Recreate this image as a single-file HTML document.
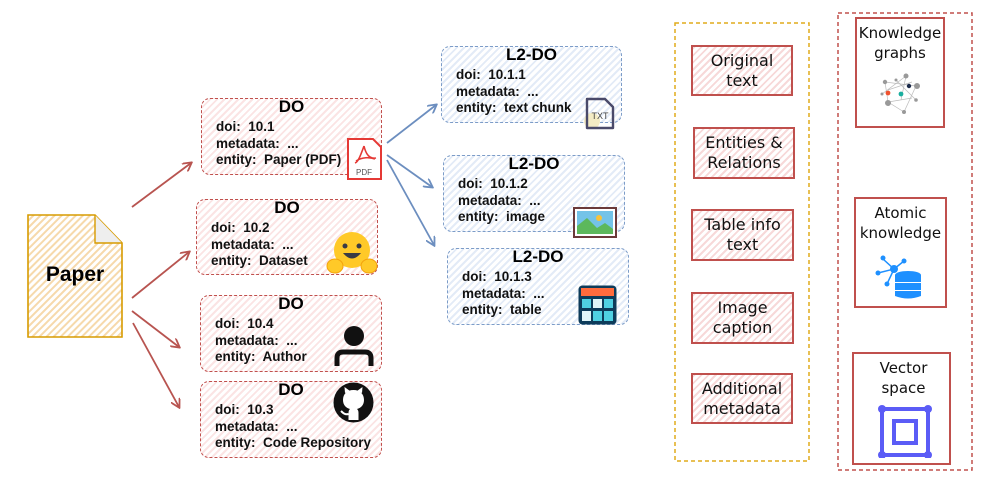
<!DOCTYPE html>
<html><head><meta charset="utf-8"><style>
body{margin:0;width:997px;height:484px;background:#fff;position:relative;overflow:hidden;font-family:"Liberation Sans",sans-serif;}
.a{position:absolute;box-sizing:border-box;}
.do{border:1.5px dashed #c0504d;border-radius:9px;background:repeating-linear-gradient(135deg,#fbe4e4 0 2px,#fff 2px 5px);}
.l2{border:1.5px dashed #7c9cc8;border-radius:9px;background:repeating-linear-gradient(135deg,#e3ebf7 0 2px,#fff 2px 5px);}
.t{position:absolute;left:0;right:0;text-align:center;top:-2px;font-weight:900;font-size:17px;color:#000;}
.b{position:absolute;left:14px;top:20px;font-size:13.5px;font-weight:bold;line-height:16.5px;color:#111;white-space:pre;}
.rb{border:2px solid #c0504d;background:repeating-linear-gradient(135deg,#f7d9d9 0 2px,#fff 2px 5px);display:flex;align-items:center;justify-content:center;text-align:center;font-size:16px;line-height:20px;color:#111;font-family:"DejaVu Sans",sans-serif;}
.wb{border:2px solid #c0504d;background:#fff;text-align:center;font-size:15px;line-height:20px;color:#111;font-family:"DejaVu Sans",sans-serif;padding-top:4px;}
</style></head><body>
<svg class="a" style="left:0;top:0" width="997" height="484">
<defs>
<marker id="mr" markerWidth="10" markerHeight="10" refX="8" refY="5" orient="auto" markerUnits="userSpaceOnUse"><path d="M0,0L9,5L0,10" fill="none" stroke="#b85450" stroke-width="1.8"/></marker>
<marker id="mb" markerWidth="10" markerHeight="10" refX="8" refY="5" orient="auto" markerUnits="userSpaceOnUse"><path d="M0,0L9,5L0,10" fill="none" stroke="#6c8ebf" stroke-width="1.8"/></marker>
<pattern id="py" width="5" height="5" patternUnits="userSpaceOnUse" patternTransform="rotate(45)"><rect width="5" height="5" fill="#fff"/><rect width="2" height="5" fill="#f6d9ab"/></pattern>
</defs>
<path d="M28,215 L95,215 L122,243 L122,337 L28,337 Z" fill="url(#py)" stroke="#d79b00" stroke-width="1.6"/>
<path d="M95,215 L95,243 L122,243" fill="#eee" stroke="#d79b00" stroke-width="1.4"/>
<g stroke="#b85450" stroke-width="1.8">
<line x1="132" y1="207" x2="191" y2="163" marker-end="url(#mr)"/>
<line x1="132" y1="298" x2="189" y2="252" marker-end="url(#mr)"/>
<line x1="132" y1="311" x2="179" y2="347" marker-end="url(#mr)"/>
<line x1="133" y1="323" x2="179" y2="407" marker-end="url(#mr)"/>
</g>
<g stroke="#6c8ebf" stroke-width="1.8">
<line x1="387" y1="143" x2="436" y2="105" marker-end="url(#mb)"/>
<line x1="387" y1="155" x2="432" y2="187" marker-end="url(#mb)"/>
<line x1="387" y1="160" x2="434" y2="245" marker-end="url(#mb)"/>
</g>
<rect x="675" y="23" width="134" height="438" fill="none" stroke="#e0ac1c" stroke-width="1.5" stroke-dasharray="4,3"/>
<rect x="838" y="13" width="134" height="457" fill="none" stroke="#c0504d" stroke-width="1.5" stroke-dasharray="4,3"/>
</svg>
<div class="a" style="left:28px;top:263px;width:94px;text-align:center;font-size:21px;font-weight:bold;">Paper</div>

<div class="a do" style="left:201px;top:98px;width:181px;height:77px"><div class="t">DO</div><div class="b">doi:  10.1
metadata:  ...
entity:  Paper (PDF)</div></div>
<div class="a do" style="left:196px;top:199px;width:182px;height:76px"><div class="t">DO</div><div class="b">doi:  10.2
metadata:  ...
entity:  Dataset</div></div>
<div class="a do" style="left:200px;top:295px;width:182px;height:77px"><div class="t">DO</div><div class="b">doi:  10.4
metadata:  ...
entity:  Author</div></div>
<div class="a do" style="left:200px;top:381px;width:182px;height:77px"><div class="t">DO</div><div class="b">doi:  10.3
metadata:  ...
entity:  Code Repository</div></div>

<svg class="a" style="left:346px;top:137px" width="37" height="44"><path d="M2,2 H27 L35,10 V42 H2 Z" fill="#fff" stroke="#e53935" stroke-width="2"/><path d="M18,9 C14,20 12,25 9,26 M18,9 C20,18 24,22 30,21 M10,24 C16,20 24,20 29,22" fill="none" stroke="#e53935" stroke-width="1.6"/><text x="18" y="38" font-size="8" text-anchor="middle" fill="#555" font-family="Liberation Sans">PDF</text></svg>
<svg class="a" style="left:326px;top:226px" width="52" height="50"><ellipse cx="26" cy="24" rx="18" ry="18" fill="#ffc928"/><circle cx="19" cy="20" r="2.5" fill="#3a3b45"/><circle cx="33" cy="20" r="2.5" fill="#3a3b45"/><path d="M17,27 Q26,38 35,27 Z" fill="#3a3b45"/><ellipse cx="9" cy="40" rx="8" ry="7" fill="#ffc928" stroke="#f4a30c"/><ellipse cx="43" cy="40" rx="8" ry="7" fill="#ffc928" stroke="#f4a30c"/></svg>
<svg class="a" style="left:334px;top:325px" width="40" height="42"><circle cx="20" cy="11" r="10" fill="#111"/><path d="M3,41 V33 Q3,27 9,27 H31 Q37,27 37,33 V41" fill="none" stroke="#111" stroke-width="5"/></svg>
<svg class="a" style="left:332px;top:381px" width="43" height="43"><circle cx="21.5" cy="21.5" r="20" fill="#111"/><path d="M21.5,9 C15,9 11,13 11,19 C11,24 14,27 18,28 C17,29 16.5,30 16.5,32 L16.5,39 L26.5,39 L26.5,32 C26.5,30 26,29 25,28 C29,27 32,24 32,19 C32,13 28,9 21.5,9 Z" fill="#fff"/><path d="M13,12 L12.5,6 L18,10 M30,12 L30.5,6 L25,10" fill="#fff"/><path d="M16.5,33 C13,34 11,32 9,30" stroke="#fff" stroke-width="2" fill="none"/></svg>

<div class="a l2" style="left:441px;top:46px;width:181px;height:77px"><div class="t">L2-DO</div><div class="b">doi:  10.1.1
metadata:  ...
entity:  text chunk</div></div>
<div class="a l2" style="left:443px;top:155px;width:182px;height:77px"><div class="t">L2-DO</div><div class="b">doi:  10.1.2
metadata:  ...
entity:  image</div></div>
<div class="a l2" style="left:447px;top:248px;width:182px;height:77px"><div class="t">L2-DO</div><div class="b">doi:  10.1.3
metadata:  ...
entity:  table</div></div>

<svg class="a" style="left:584px;top:97px" width="32" height="33"><circle cx="8" cy="24" r="8" fill="#f3ebc4"/><path d="M3,2 H21 L29,10 V31 H3 Z" fill="none" stroke="#4a4a6a" stroke-width="2.4" stroke-linejoin="round"/><text x="16" y="22" font-size="9" text-anchor="middle" fill="#444" font-family="Liberation Sans">TXT</text></svg>
<svg class="a" style="left:572px;top:206px" width="46" height="33"><rect x="2" y="2" width="42" height="29" fill="#fff" stroke="#6b3a3a" stroke-width="2"/><rect x="5" y="5" width="36" height="23" fill="#74c3e8"/><circle cx="27" cy="12" r="3" fill="#f7c23b"/><path d="M5,28 L5,20 L15,12 L25,22 L33,17 L41,23 L41,28 Z" fill="#5cb85c"/></svg>
<svg class="a" style="left:577px;top:284px" width="41" height="42"><rect x="1.5" y="1.5" width="38" height="39" rx="4" fill="#0d3b5a"/><rect x="4" y="4" width="33" height="8" fill="#ff6b3d"/><g fill="#4fd0e2"><rect x="5" y="15" width="9" height="9"/><rect x="16" y="15" width="9" height="9" fill="#dff4f8"/><rect x="27" y="15" width="9" height="9"/><rect x="5" y="27" width="9" height="10" fill="#dff4f8"/><rect x="16" y="27" width="9" height="10"/><rect x="27" y="27" width="9" height="10"/></g></svg>

<div class="a rb" style="left:691px;top:45px;width:102px;height:51px">Original<br>text</div>
<div class="a rb" style="left:693px;top:127px;width:102px;height:52px">Entities &amp;<br>Relations</div>
<div class="a rb" style="left:691px;top:209px;width:103px;height:52px">Table info<br>text</div>
<div class="a rb" style="left:691px;top:292px;width:103px;height:52px">Image<br>caption</div>
<div class="a rb" style="left:691px;top:373px;width:102px;height:51px">Additional<br>metadata</div>

<div class="a wb" style="left:855px;top:17px;width:90px;height:111px">Knowledge<br>graphs</div>
<svg class="a" style="left:878px;top:72px" width="46" height="46"><g stroke="#bbb" stroke-width="0.7"><line x1="7" y1="10" x2="38" y2="14"/><line x1="7" y1="10" x2="10" y2="30"/><line x1="10" y1="30" x2="34" y2="26"/><line x1="28" y1="4" x2="23" y2="28"/><line x1="10" y1="30" x2="26" y2="40"/><line x1="38" y1="14" x2="26" y2="40"/><line x1="10" y1="18" x2="34" y2="10"/><line x1="18" y1="8" x2="38" y2="28"/><line x1="4" y1="22" x2="28" y2="4"/></g><g fill="#999"><circle cx="28" cy="4" r="2.5"/><circle cx="7" cy="10" r="2.2"/><circle cx="39" cy="14" r="3"/><circle cx="10" cy="31" r="3"/><circle cx="26" cy="40" r="2"/><circle cx="38" cy="28" r="1.8"/><circle cx="18" cy="8" r="1.5"/><circle cx="4" cy="22" r="1.5"/></g><circle cx="10" cy="21" r="2.4" fill="#f0522e"/><circle cx="23" cy="22" r="2.4" fill="#1aae9f"/><circle cx="31" cy="14" r="2.2" fill="#1b2a4a"/></svg>
<div class="a wb" style="left:854px;top:197px;width:93px;height:111px">Atomic<br>knowledge</div>
<svg class="a" style="left:875px;top:255px" width="50" height="50"><g stroke="#1e90ff" stroke-width="1.5"><line x1="19" y1="14" x2="8" y2="4"/><line x1="19" y1="14" x2="29" y2="6"/><line x1="19" y1="14" x2="3" y2="18"/><line x1="19" y1="14" x2="12" y2="29"/></g><g fill="#1e90ff"><circle cx="8" cy="3" r="2.5"/><circle cx="29" cy="6" r="2.5"/><circle cx="3" cy="18" r="2.5"/><circle cx="12" cy="29" r="2.5"/><circle cx="19" cy="14" r="4"/><ellipse cx="33" cy="20" rx="13" ry="4"/><rect x="20" y="20" width="26" height="7"/><rect x="20" y="28" width="26" height="7"/><path d="M20,36 H46 V41 Q33,46 20,41 Z"/></g></svg>
<div class="a wb" style="left:852px;top:352px;width:99px;height:113px;padding-left:4px">Vector<br>space</div>
<svg class="a" style="left:874px;top:403px" width="60" height="55"><rect x="8" y="6" width="46" height="46" fill="none" stroke="#5b5cf6" stroke-width="4"/><rect x="20" y="18" width="22" height="22" fill="none" stroke="#5b5cf6" stroke-width="4"/><g fill="#5b5cf6"><circle cx="8" cy="6" r="4"/><circle cx="54" cy="6" r="4"/><circle cx="8" cy="52" r="4"/><circle cx="54" cy="52" r="4"/></g></svg>
</body></html>
